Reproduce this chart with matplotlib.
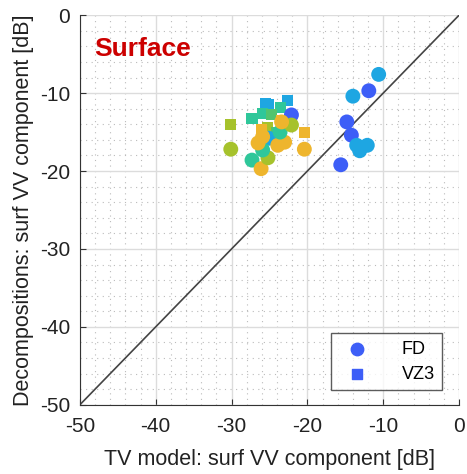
import matplotlib.pyplot as plt
import numpy as np

plt.rcParams['font.family'] = ['Liberation Sans', 'DejaVu Sans']
plt.rcParams['axes.unicode_minus'] = False

# colour classes used for the markers
BLUE = '#3d5ef7'
CYAN = '#1ea6e2'
TEAL = '#2fc79a'
GREEN = '#52c46e'
LIME = '#a6c22c'
ORANGE = '#eeb52d'

# FD decomposition (circles)
fd_x = [-30.1, -20.4, -27.3, -26.1, -25.2, -25.1, -25.9, -26.5, -23.0, -23.9,
        -23.6, -22.1, -22.1, -23.4, -25.9,
        -10.6, -11.9, -14.0, -14.8, -14.2, -13.5, -12.1, -13.1, -15.6]
fd_y = [-17.2, -17.2, -18.6, -19.7, -18.3, -15.8, -17.3, -16.4, -16.3, -16.7,
        -15.0, -12.8, -14.1, -13.7, -15.6,
        -7.6, -9.7, -10.4, -13.7, -15.4, -16.7, -16.7, -17.4, -19.2]
fd_c = [LIME, ORANGE, TEAL, ORANGE, LIME, CYAN, TEAL, ORANGE, ORANGE, ORANGE,
        TEAL, BLUE, LIME, ORANGE, ORANGE,
        CYAN, BLUE, CYAN, BLUE, BLUE, CYAN, CYAN, CYAN, BLUE]

# VZ3 decomposition (squares)
vz3_x = [-30.1, -25.5, -25.1, -22.6, -27.3, -25.9, -23.6, -24.7, -23.4, -25.2,
         -26.1, -20.4, -22.7, -24.0]
vz3_y = [-14.0, -11.4, -11.5, -11.0, -13.3, -12.6, -11.8, -12.8, -13.5, -14.4,
         -14.7, -15.0, -14.0, -15.0]
vz3_c = [LIME, CYAN, CYAN, CYAN, TEAL, TEAL, TEAL, GREEN, ORANGE, LIME,
         ORANGE, ORANGE, ORANGE, GREEN]

fig = plt.figure(figsize=(4.67, 4.74), dpi=100)
ax = fig.add_axes([0.171, 0.146, 0.812, 0.822])

ax.plot([-50, 0], [-50, 0], color='#444444', lw=1.2, zorder=2)

ax.scatter(vz3_x, vz3_y, s=64, marker='s', c=vz3_c, linewidths=0, zorder=3)
ax.scatter(fd_x, fd_y, s=115, marker='o', c=fd_c, linewidths=0, zorder=4)

# legend proxies
ax.scatter([], [], s=80, marker='o', c=BLUE, label='FD')
ax.scatter([], [], s=50, marker='s', c=BLUE, label='VZ3')
leg = ax.legend(loc='lower right', bbox_to_anchor=(0.955, 0.038), fontsize=13,
                frameon=True, fancybox=False, handletextpad=1.5,
                borderpad=0.4, labelspacing=0.45, borderaxespad=0,
                handlelength=2.0)
leg.get_frame().set_edgecolor('#333333')
leg.get_frame().set_linewidth(1.0)

ax.set_xlim(-50, 0)
ax.set_ylim(-50, 0)
ax.set_xticks(np.arange(-50, 1, 10))
ax.set_yticks(np.arange(-50, 1, 10))
ax.set_xticks(np.arange(-50, 1, 2), minor=True)
ax.set_yticks(np.arange(-50, 1, 2), minor=True)
ax.grid(which='major', color='#dcdcdc', lw=1.0)
ax.grid(which='minor', color='#bbbbbb', lw=0.8, ls=(0, (1, 4)))
ax.set_axisbelow(True)
ax.tick_params(which='major', direction='in', length=4, labelsize=15,
               color='#333333', labelcolor='#222222')
ax.tick_params(axis='x', which='major', pad=9)
ax.tick_params(axis='y', which='major', pad=7)
ax.tick_params(which='minor', length=0)
for side in ('top', 'right'):
    ax.spines[side].set_visible(False)
for side in ('left', 'bottom'):
    ax.spines[side].set_color('#333333')

ax.set_xlabel('TV model: surf VV component [dB]', fontsize=15.5,
              color='#222222', labelpad=9)
ax.set_ylabel('Decompositions: surf VV component [dB]', fontsize=15.5,
              color='#222222', labelpad=4)

ax.text(-48.1, -4.3, 'Surface', color='#cc0000', fontsize=19,
        fontweight='bold', va='center', ha='left')

fig.savefig('out.png', dpi=100)
